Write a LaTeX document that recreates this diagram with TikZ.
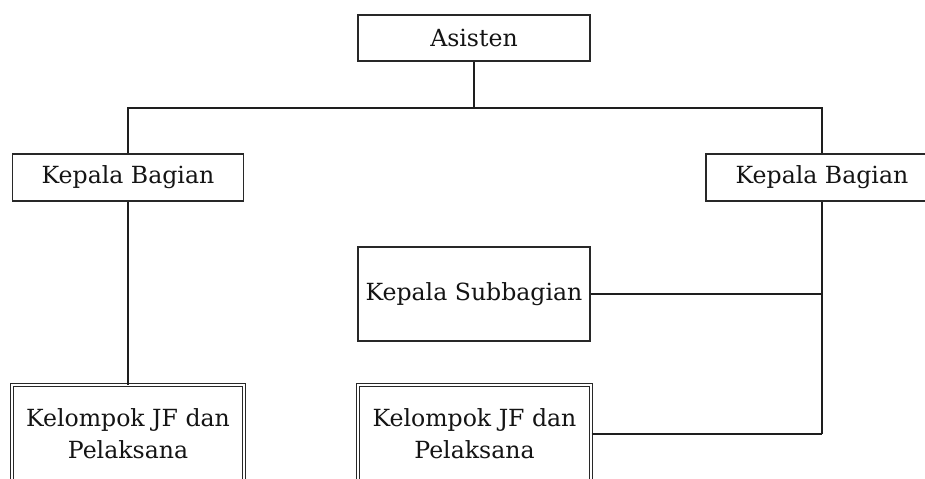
\documentclass[tikz,border=0pt]{standalone}
\usepackage{fontspec}
\setmainfont{DejaVu Serif}
\usepackage{tikz}
\usetikzlibrary{positioning,calc}
\definecolor{BoxBorder}{RGB}{40,40,40}
\definecolor{LineColor}{RGB}{30,30,30}
\definecolor{TextColor}{RGB}{20,20,20}
\tikzset{
  % single box
  unitbox/.style={
    rectangle,
    draw=BoxBorder,
    line width=0.9pt,
    fill=white,
    inner sep=0pt,
    text=TextColor,
    font=\fontsize{11.8}{16}\selectfont,
    align=center
  },
  % double bordered box
  groupbox/.style={
    unitbox,
    line width=0.5pt,
    double=white,
    double distance=1pt
  },
  % connector
  link/.style={
    draw=LineColor,
    line width=0.9pt
  }
}
\begin{document}
\begin{tikzpicture}[x=0.5pt,y=-0.5pt]
  \useasboundingbox (0,0) rectangle (925,478);
  \clip (0,0) rectangle (925,478);

  \node[unitbox, minimum width=116pt, minimum height=23pt] (asisten) at (474,38) {Asisten};
  \node[unitbox, minimum width=115.5pt, minimum height=23.5pt] (kabagL) at (128,177.5) {Kepala Bagian};
  \node[unitbox, minimum width=116pt, minimum height=23.5pt] (kabagR) at (822,177.5) {Kepala Bagian};
  \node[unitbox, minimum width=116pt, minimum height=47pt] (kasubbag) at (474,294) {Kepala Subbagian};
  \node[groupbox, minimum width=116pt, minimum height=49pt] (jfL) at (128,434) {Kelompok JF dan\\Pelaksana};
  \node[groupbox, minimum width=116.5pt, minimum height=49pt] (jfM) at (474.5,434) {Kelompok JF dan\\Pelaksana};

  \coordinate (bus) at (474,108);

  \draw[link] (asisten.south) -- (bus);
  \draw[link] (kabagL.north) |- (bus) -| (kabagR.north);
  \draw[link] (kabagL.south) -- (jfL.north);
  \draw[link] (kabagR.south) -- (jfM.east -| kabagR.south);
  \draw[link] (kasubbag.east) -- (kasubbag.east -| kabagR.south);
  \draw[link] (jfM.east) -- (jfM.east -| kabagR.south);
\end{tikzpicture}
\end{document}
